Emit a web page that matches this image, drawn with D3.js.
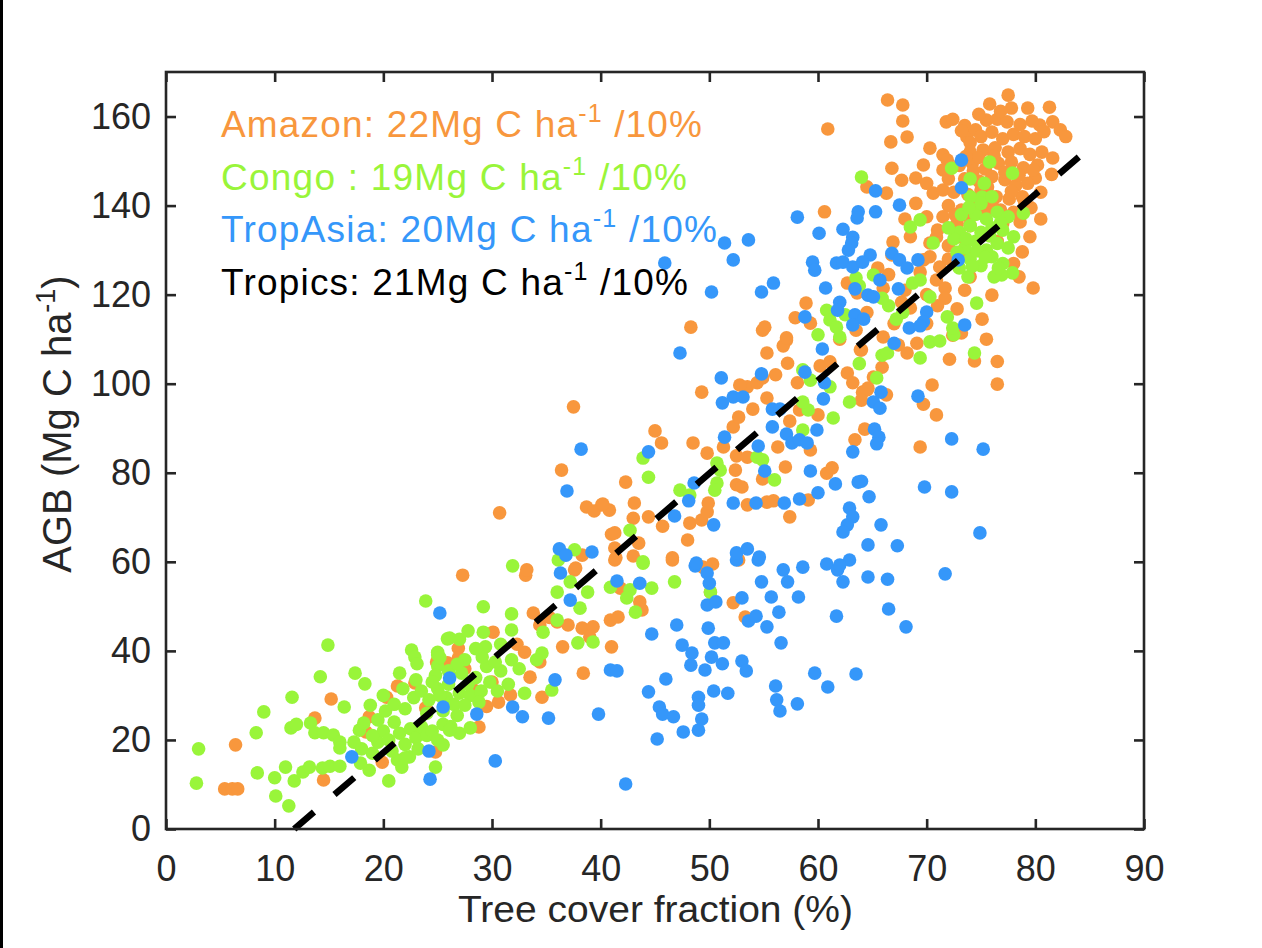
<!DOCTYPE html>
<html><head><meta charset="utf-8">
<script src="https://cdn.jsdelivr.net/npm/d3@7"></script>
<style>body{margin:0;background:#fff;} svg{display:block;}</style>
</head><body>
<svg id="c" width="1262" height="948"></svg>
<script>
// ---------- DATA ----------
const xTicks = [0,10,20,30,40,50,60,70,80,90];
const yTicks = [0,20,40,60,80,100,120,140,160];
const xLabel = "Tree cover fraction (%)";
const yLabelMain = "AGB (Mg C ha", yLabelSup = "-1", yLabelEnd = ")";
const seriesNames = ["Amazon","Congo","TropAsia"];
const legendPrefix = ["Amazon: 22Mg C ha","Congo : 19Mg C ha","TropAsia: 20Mg C ha","Tropics: 21Mg C ha"];
const legendSuffix = " /10%";
const tropicsSlope = 2.09, tropicsX0 = 11.8, tropicsXEnd = 85;

const amazon = [
[6.4,18.9],[5.4,9.0],[6.1,9.0],[6.6,9.0],[15.2,29.2],[13.7,24.9],[14.5,11.0],[18.7,25.2],[18.4,21.8],[20.3,29.6],
[21.3,32.1],[22.9,32.8],[23.9,27.2],[19.9,15.0],[24.8,17.3],[24.9,37.5],[25.8,37.0],[23.0,21.5],
[27.3,57.0],[33.1,57.0],[37.6,58.2],[41.3,60.4],[46.6,60.4],[49.4,58.8],[30.1,44.2],[26.9,40.6],[26.9,38.4],[25.9,37.3],
[33.5,34.1],[33.0,39.7],[33.8,48.5],[34.4,45.8],[34.4,37.5],[31.7,30.1],[30.6,28.5],[28.8,22.9],[34.6,29.6],[36.0,46.5],
[37.0,45.8],[38.3,45.1],[39.3,45.4],[39.0,43.1],[36.5,40.9],[38.4,35.0],[41.0,40.9],[40.9,46.9],[41.6,47.6],[43.6,51.0],
[43.8,49.2],[41.8,54.1],[27.5,36.0],[28.2,31.5],[29.5,27.5],[30.0,33.0],[32.3,41.5],[35.3,47.5],
[48.9,59.3],[50.3,59.5],[50.1,53.2],[52.2,50.8],[53.3,47.6],[52.7,60.4],
[37.5,94.8],[36.4,80.6],[30.7,71.0],[38.7,72.3],[39.4,71.4],[40.1,72.8],[40.8,71.6],[41.0,66.2],[38.3,61.5],[33.2,58.2],[37.7,58.6],
[49.3,98.1],[45.0,89.4],[45.6,86.7],[48.5,86.7],[49.8,84.4],[42.3,77.9],[40.2,73.0],[43.1,73.2],[43.0,69.8],[44.4,70.1],
[45.7,68.0],[41.3,66.5],[41.3,63.1],[41.4,60.9],[48.0,64.9],[48.2,68.7],[49.3,69.4],[49.8,71.2],[49.9,73.2],[46.6,60.9],
[43.0,61.3],[43.5,64.2],[55.3,73.4],[55.9,73.7],[57.4,70.1],[59.1,73.9],[52.5,77.3],[53.0,76.8],[54.9,78.6],[57.0,81.3],
[52.4,80.6],[52.5,83.8],[53.5,83.5],[51.3,85.8],[52.2,90.3],[52.7,92.5],[54.0,94.3],[53.5,99.3],[54.4,100.2],[54.9,101.3],
[52.8,99.7],[55.3,96.8],[55.3,106.9],[56.1,102.0],[57.2,104.6],[57.1,109.8],[56.8,108.5],[58.1,100.2],[57.4,91.6],[56.3,85.8],
[59.3,85.1],[60.8,79.9],[61.3,81.1],[60.2,104.0],[61.1,104.9],[62.7,102.4],[63.9,107.6],[63.2,100.2],[64.1,98.1],[64.6,99.0],
[63.4,87.4],[58.3,94.1],[54.9,112.0],[48.3,112.7],[53.5,72.8],[60.0,93.0],
[76.5,99.9],[70.5,99.7],[69.7,95.4],[70.9,93.0],[69.4,85.8],[72.1,105.5],[74.4,105.1],[68.2,106.9],[67.4,108.7],[69.1,109.1],
[65.9,103.7],[65.1,101.5],[64.5,98.6],[64.0,96.3],[66.3,97.5],[64.3,89.8],[64.0,107.6],[72.4,110.9],[73.2,111.4],
[66.4,163.7],[67.8,162.6],[67.8,159.0],[68.2,155.4],[66.7,154.3],[60.9,157.2],[60.6,138.6],[71.8,158.8],[72.4,159.4],[77.5,164.8],
[77.8,161.9],[79.3,161.9],[81.3,162.1],[81.6,158.8],[82.3,157.0],[80.4,158.1],[79.7,159.0],[75.5,159.2],[76.5,159.4],[77.4,158.8],
[70.3,152.9],[73.7,155.4],[74.0,154.1],[71.5,151.4],[71.9,150.2],[66.8,148.4],[67.7,145.7],[69.0,146.2],[69.7,149.1],[71.5,148.0],
[81.6,150.7],[80.2,149.1],[80.6,152.0],[80.0,146.2],[78.6,136.3],[78.8,129.6],[79.8,121.5],[76.0,119.9],[75.1,114.5],[72.8,116.8],
[70.3,128.5],[70.3,131.6],[70.9,132.9],[70.6,142.8],[71.5,143.5],[66.9,131.8],[66.8,128.9],[69.7,127.8],[69.4,125.1],[71.2,126.2],
[70.9,123.3],[71.7,121.5],[71.7,119.2],[66.3,142.8],[64.5,144.2],[58.9,118.1],[57.9,114.8],[59.3,113.6],[55.1,112.7],[57.1,110.3],
[62.7,122.6],[63.6,120.4],[67.7,118.3],
[73.5,158.0],[74.5,157.0],[75.0,155.5],[76.0,156.5],[77.0,155.0],[78.0,156.0],[79.0,155.5],[80.0,155.0],[74.0,152.0],[75.2,152.5],
[76.3,153.0],[77.5,152.0],[78.6,152.8],[79.5,151.5],[73.0,149.0],[74.2,149.5],[75.4,148.2],[76.6,149.5],[77.8,149.8],[78.9,148.5],
[73.5,146.0],[74.8,145.5],[76.0,146.5],[77.2,145.8],[78.2,144.5],[79.3,145.0],[72.5,143.0],[73.8,142.5],[75.0,143.5],[76.4,142.0],
[77.6,141.5],[78.8,142.0],[72.0,140.0],[73.2,139.0],[74.5,140.0],[76.8,139.0],[78.0,138.5],[79.6,139.5],[72.8,136.0],[74.0,135.5],
[71.5,137.5],[77.0,136.0],[80.5,143.0],[81.5,147.0],[82.8,155.5],[72.0,146.0],[70.0,145.0],[69.0,140.5],[68.0,137.0],[70.0,137.5],
[71.0,134.5],[72.0,131.0],[73.0,133.0],[68.5,133.0],[72.0,128.0],[73.5,129.0],[76.5,132.0],[78.0,127.0],[79.5,133.0],[80.5,137.0],
[78.5,124.0],[74.0,124.0],[70.0,120.0],[73.5,121.0],[68.0,121.0],[66.5,124.5],[65.5,126.0],[67.0,113.5],[66.0,110.5],[75.5,110.0],
[76.5,105.0],[66.0,121.5],[68.5,117.0],[70.0,113.5],[71.0,117.5],[64.5,116.0],[63.5,112.0],[62.0,110.0],
[74.8,150.8],[76.2,151.2],[77.2,147.5],[75.6,144.2],[74.3,147.8],[73.6,151.0],[78.5,146.8],[79.8,148.0],[76.0,140.5],[77.8,143.2],
[73.8,137.6],[75.4,138.6],[79.0,141.0],[72.6,138.0],[74.8,160.5],[76.8,161.2],[78.6,158.2],[80.8,156.6],[75.8,162.8],[73.2,156.8]
];

const congo = [
[23.9,51.2],[14.9,41.3],[14.2,34.2],[17.4,35.0],[18.3,32.6],[11.6,29.6],[16.4,27.4],[9.0,26.3],[8.3,21.6],[3.0,18.0],
[2.8,10.3],[8.4,12.6],[10.0,11.5],[10.1,7.4],[11.3,5.2],[11.0,13.9],[11.8,10.8],[12.6,12.8],[13.2,13.9],[14.4,13.7],
[15.1,14.1],[16.0,14.1],[11.5,22.7],[12.0,23.5],[13.3,23.8],[13.7,21.6],[14.5,21.6],[15.4,21.1],[16.0,19.5],[16.0,18.2],
[17.3,19.5],[17.8,22.2],[18.2,23.8],[18.8,27.8],[21.5,35.0],[22.6,40.2],[22.9,38.6],[23.1,37.1],[25.0,39.1],[25.0,36.6],
[25.9,42.7],[20.5,10.8],[18.7,13.2],[17.9,14.8],[21.3,15.5],[21.7,13.9],[22.4,16.2],[24.8,13.9],
[19.0,17.0],[19.5,19.5],[20.0,22.0],[20.5,20.0],[21.0,24.0],[21.5,21.5],[22.0,19.0],[22.5,22.5],[23.0,20.5],[23.5,23.0],
[24.0,21.0],[24.5,22.0],[25.0,20.0],[25.5,23.5],[19.5,24.5],[20.2,26.5],[21.0,28.0],[22.0,27.0],[22.8,29.5],[23.5,31.0],
[24.2,29.0],[25.0,31.5],[25.8,29.5],[20.0,30.0],[21.8,31.5],[23.0,33.5],[24.8,34.5],[19.0,21.0],[18.0,18.0],[20.8,17.5],
[22.0,16.0],[23.2,18.0],[24.0,26.0],[25.5,26.5],[26.5,28.0],[26.0,32.5],[27.0,30.5],[27.8,32.5],[28.5,34.0],[27.2,35.0],
[28.0,30.0],[29.0,31.0],[29.8,33.0],[30.5,31.0],[29.5,36.5],[30.8,35.5],[26.8,25.5],[27.5,27.8],[28.8,28.5],[26.2,23.0],
[27.0,21.5],[28.0,22.7],[26.1,22.2],[25.5,18.9],
[31.9,59.1],[29.2,49.9],[31.8,48.3],[31.8,44.7],[29.2,44.2],[26.1,42.9],[27.0,42.6],[29.4,40.9],[29.1,38.6],[25.0,39.7],
[25.2,38.5],[31.8,38.0],[34.6,39.5],[34.1,38.0],[34.7,44.2],[36.0,46.9],[36.0,53.2],[38.1,49.6],[37.2,55.5],[38.8,53.2],
[37.9,41.8],[39.3,42.0],[40.9,54.3],[42.7,53.7],[42.4,51.9],[43.2,48.7],[44.7,54.1],[46.8,55.5],[43.9,59.7],[35.5,31.2],
[24.5,33.0],[25.2,30.0],[26.0,35.5],[27.5,38.0],[28.5,40.5],[30.3,37.5],[30.8,41.5],[31.5,32.5],[32.5,36.0],[33.0,30.5],
[27.8,44.5],[26.8,37.0],[37.6,62.7],[36.1,60.4],
[43.9,83.3],[44.4,79.0],[50.7,82.2],[51.0,80.6],[50.7,77.7],[50.5,76.1],[47.3,76.1],[48.2,75.0],[54.4,83.5],[54.9,82.9],
[56.0,78.4],[58.6,103.1],[59.3,100.8],[59.1,94.1],[58.6,95.9],[61.4,92.3],[62.9,95.9],[61.1,99.3],[58.6,89.6],[42.7,67.1],
[43.9,60.0],[62.0,110.5],[63.8,104.5],[50.1,53.2],
[74.4,106.9],[69.4,105.8],[65.9,106.4],[66.4,106.9],[65.4,101.3],[70.3,109.4],[71.2,109.6],[72.5,111.0],
[64.0,146.4],[72.3,148.4],[75.8,149.8],[77.9,147.3],[78.9,138.3],[68.5,135.2],[69.4,136.8],[75.1,141.9],[77.9,124.9],[76.9,124.4],
[70.6,131.6],[68.7,122.6],[69.4,123.3],[74.6,118.1],[71.9,115.0],[72.4,112.5],[70.3,119.5],[66.5,117.5],[67.2,114.5],[67.8,116.0],
[65.1,124.4],[63.5,123.8],[63.8,122.0],[60.8,116.5],[61.1,114.3],[61.7,112.7],[65.9,119.2],[60.0,111.0],[62.5,115.5],
[73.0,126.0],[74.0,128.0],[75.0,126.5],[76.0,128.5],[77.0,127.0],[73.5,130.5],[74.5,132.0],[75.5,130.0],[76.5,131.5],[77.5,130.5],
[73.0,134.0],[74.0,135.5],[75.0,134.0],[76.0,135.0],[77.0,134.5],[74.5,138.0],[75.5,137.0],[76.5,138.5],[75.0,140.5],[76.0,142.0],
[74.0,142.0],[73.2,138.0],[72.5,132.5],[72.0,135.0],[78.0,133.0],[77.5,137.5],[73.8,124.0],[76.2,124.0],[72.8,129.5],[75.3,145.0],
[74.0,146.0],[74.6,129.8],[75.8,133.2],[76.8,136.2],[73.6,132.6],[75.4,128.4],[76.6,126.0],[74.2,126.4],[73.9,139.6]
];

const tropAsia = [
[25.2,48.5],[17.1,16.2],[24.2,17.5],[24.3,11.2],[25.5,27.4],[26.1,33.9],[28.6,25.8],[31.9,27.4],[32.8,25.2],[35.2,24.9],
[35.8,33.5],[39.8,25.8],[30.3,15.3],[42.3,10.1],[36.3,57.5],[37.2,51.4],[41.5,55.7],[43.6,55.2],[48.7,59.1],[44.7,43.8],
[47.0,45.8],[47.5,41.3],[48.4,39.5],[48.3,36.8],[49.6,35.7],[40.9,35.7],[41.5,35.5],[46.0,33.7],[44.4,30.8],[45.4,27.4],
[45.7,25.8],[46.7,25.2],[47.6,21.8],[45.2,20.2],[49.0,29.6],[49.0,27.8],[49.3,24.7],[49.0,22.2],
[49.8,57.5],[50.0,55.2],[49.8,50.3],[50.6,51.0],[49.9,45.1],[50.5,41.8],[51.3,41.8],[50.2,38.6],[51.2,37.1],[53.0,37.7],
[53.4,35.5],[50.4,31.0],[51.7,30.5],[56.1,32.1],[56.2,29.0],[56.5,26.5],[58.1,28.1],[59.7,35.0],[60.9,31.9],[63.5,34.8],
[56.6,41.8],[55.3,45.4],[56.4,48.7],[53.6,46.7],[54.3,47.8],[53.0,51.9],[55.7,52.1],[58.2,52.1],[54.8,55.5],[57.2,55.5],
[56.8,58.2],[58.6,58.8],[60.8,59.5],[61.8,58.2],[62.3,55.5],[62.9,60.4],[64.6,56.6],[66.4,56.1],[66.5,49.4],[61.7,47.8],
[68.1,45.4],[71.7,57.3],[52.5,60.4],[54.5,60.4],
[38.2,85.3],[36.9,75.9],[36.2,62.9],[36.8,61.5],[39.2,62.2],
[47.3,106.9],[51.1,101.3],[51.2,95.7],[52.2,97.0],[53.1,97.0],[54.8,102.2],[55.8,94.3],[56.5,94.3],[55.8,90.3],[60.4,107.8],
[60.6,100.2],[60.5,96.6],[58.8,102.6],[51.4,88.0],[54.5,86.0],[57.1,88.7],[57.6,86.7],[58.3,87.4],[59.0,86.7],[59.9,89.6],
[55.1,80.4],[44.4,84.7],[48.6,77.7],[48.1,73.7],[46.8,70.3],[50.4,68.3],[52.2,73.2],[54.3,73.2],[56.9,73.2],[58.3,74.1],
[60.0,75.5],[61.6,77.5],[59.3,80.4],[63.7,77.9],[63.2,84.7],[64.7,74.6],[62.9,72.1],[63.2,70.1],[62.7,68.3],[62.3,66.7],
[64.6,63.8],[65.2,89.8],[65.6,88.0],[52.5,62.0],[53.5,62.9],[54.6,61.1],[48.8,59.7],[62.0,59.3],
[67.0,109.1],[65.8,98.1],[65.1,95.9],[65.7,94.5],[69.2,97.2],[65.4,86.5],[72.3,87.6],[75.2,85.3],[64.0,78.1],[69.8,76.8],
[72.3,75.7],[65.8,68.3],[67.3,63.6],[74.9,66.5],
[73.2,150.2],[73.2,144.0],[65.3,143.3],[65.3,138.6],[67.5,140.1],[63.7,138.6],[63.6,137.2],[58.1,137.4],[53.6,132.3],[51.4,131.6],
[52.2,127.8],[50.2,120.6],[54.8,120.6],[55.9,122.6],[60.1,133.8],[59.5,127.3],[59.7,125.5],[60.7,121.5],[62.3,134.7],[63.2,132.9],
[63.1,131.6],[62.8,130.0],[61.7,127.1],[62.3,127.3],[63.2,126.2],[64.8,128.9],[64.1,127.3],[66.8,129.3],[67.5,127.8],[68.2,126.0],
[69.2,127.8],[65.7,123.3],[67.4,121.3],[63.4,121.3],[64.6,119.9],[65.1,119.5],[62.0,118.3],[61.8,116.5],[63.4,115.5],[64.2,114.5],
[70.0,116.1],[69.7,113.9],[73.5,113.2],[68.4,112.5],[69.4,113.0],[58.8,115.0],[63.2,113.2],[72.9,127.8],[45.9,127.1]
];

const seriesData = [amazon, congo, tropAsia];
const seriesColors = ["#F8973D","#99F53A","#3597FA"];
const legendColors = ["#F8973D","#99F53A","#3597FA","#000000"];
const legendWidths = [481,466,496,467];

// ---------- CHART ----------
const svg = d3.select("#c");
const FONT = "'Liberation Sans', Arial, Helvetica, sans-serif";
const axisColor = "#262626";
const L = 166, R = 1144, T = 72, B = 829;
const x = d3.scaleLinear().domain([0,90]).range([L,R]);
const y = d3.scaleLinear().domain([0,170]).range([B,T]);

svg.append("rect").attr("width",1262).attr("height",948).attr("fill","#fff");
// black strip at left edge of the image
svg.append("rect").attr("x",0).attr("y",0).attr("width",3).attr("height",948).attr("fill","#000");

// dots
seriesData.forEach((d,i)=>{
  svg.append("g").selectAll("circle").data(d).join("circle")
    .attr("cx",p=>x(p[0])).attr("cy",p=>y(p[1])).attr("r",6.8)
    .attr("fill",seriesColors[i]);
});

// fit line
const lineData = [tropicsX0, tropicsXEnd].map(v=>[v, tropicsSlope*(v-tropicsX0)]);
svg.append("path").datum(lineData)
  .attr("d", d3.line().x(p=>x(p[0])).y(p=>y(p[1])))
  .attr("stroke","#000").attr("stroke-width",6.5).attr("stroke-dasharray","26 27").attr("fill","none");

// axes
function styleAxis(g){
  g.select(".domain").remove();
  g.selectAll(".tick line").attr("stroke",axisColor).attr("stroke-width",2.6);
  g.selectAll(".tick text").attr("fill",axisColor).style("font-family",FONT).style("font-size","36px");
}
svg.append("g").attr("transform",`translate(0,${B})`)
  .call(d3.axisBottom(x).tickValues(xTicks).tickSize(-10).tickPadding(26).tickFormat(d3.format("d")))
  .call(styleAxis);
svg.append("g").attr("transform",`translate(0,${T})`)
  .call(d3.axisTop(x).tickValues(xTicks).tickSize(-10).tickFormat(""))
  .call(styleAxis);
svg.append("g").attr("transform",`translate(${L},0)`)
  .call(d3.axisLeft(y).tickValues(yTicks).tickSize(-10).tickPadding(15).tickFormat(d3.format("d")))
  .call(styleAxis);
svg.append("g").attr("transform",`translate(${R},0)`)
  .call(d3.axisRight(y).tickValues(yTicks).tickSize(-10).tickFormat(""))
  .call(styleAxis);
svg.append("rect").attr("x",L).attr("y",T).attr("width",R-L).attr("height",B-T)
  .attr("fill","none").attr("stroke",axisColor).attr("stroke-width",2.6);

// axis labels
svg.append("text").attr("x",(458+853)/2).attr("y",922).attr("text-anchor","middle")
  .attr("textLength",395).attr("lengthAdjust","spacingAndGlyphs")
  .style("font-family",FONT).style("font-size","37px").attr("fill",axisColor).text(xLabel);

const yl = svg.append("text").attr("transform","translate(71,424) rotate(-90)").attr("text-anchor","middle")
  .style("font-family",FONT).style("font-size","40px").attr("fill",axisColor);
yl.append("tspan").text(yLabelMain);
yl.append("tspan").attr("dy",-16).style("font-size","27px").text(yLabelSup);
yl.append("tspan").attr("dy",16).text(yLabelEnd);

// legend text
legendPrefix.forEach((t,i)=>{
  const tx = svg.append("text").attr("x",221).attr("y",137 + i*52.7)
    .attr("textLength",legendWidths[i]).attr("lengthAdjust","spacing")
    .style("font-family",FONT).style("font-size","37px").attr("fill",legendColors[i]);
  tx.append("tspan").text(t);
  tx.append("tspan").attr("dy",-15).style("font-size","25px").text("-1");
  tx.append("tspan").attr("dy",15).text(legendSuffix);
});
</script>
</body></html>
